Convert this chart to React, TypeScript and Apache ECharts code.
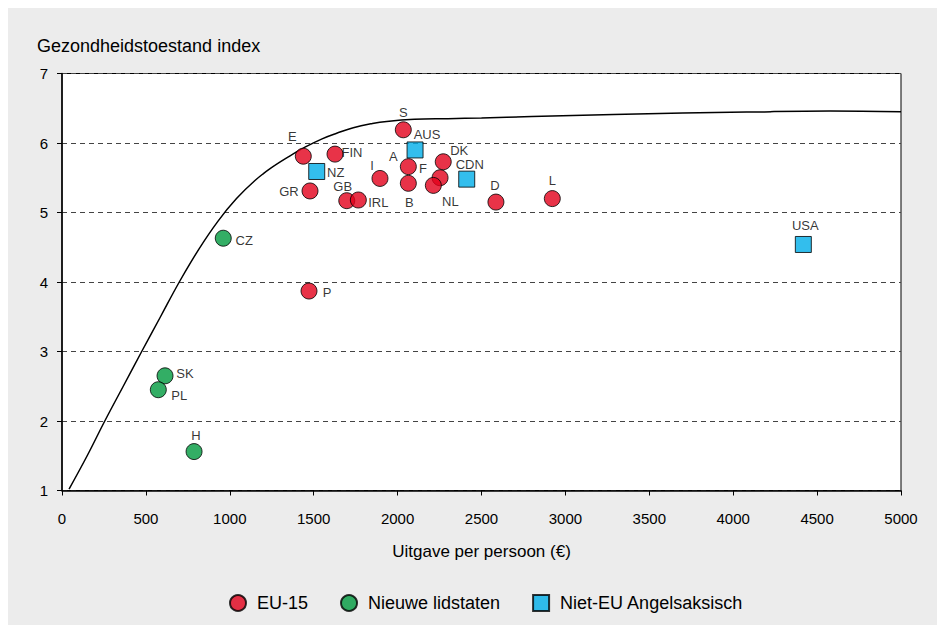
import React, { useEffect, useRef } from "react";
import * as echarts from "echarts";

// ---- data ----
const euNames = ["S", "E", "FIN", "A", "F", "I", "B", "DK", "NL", "GR", "GB", "IRL", "D", "L", "P"];
const euX = [2034, 1438, 1627, 2064, 2253, 1895, 2064, 2272, 2213, 1478, 1697, 1766, 2586, 2922, 1472];
const euY = [6.19, 5.81, 5.84, 5.66, 5.5, 5.49, 5.42, 5.73, 5.39, 5.31, 5.17, 5.18, 5.15, 5.2, 3.87];

const newNames = ["CZ", "SK", "PL", "H"];
const newX = [961, 614, 574, 787];
const newY = [4.63, 2.65, 2.45, 1.56];

const angloNames = ["AUS", "NZ", "CDN", "USA"];
const angloX = [2104, 1518, 2412, 4418];
const angloY = [5.9, 5.59, 5.48, 4.54];

const curveX = [42, 150, 255, 365, 475, 587, 699, 815, 931, 1040, 1150, 1240, 1349, 1448, 1550, 1637, 1736, 1850, 1935, 2100, 2300, 2500, 2800, 3286, 3700, 4080, 4577, 5000];
const curveY = [1.02, 1.5, 2.0, 2.5, 3.0, 3.5, 4.0, 4.47, 4.88, 5.2, 5.46, 5.63, 5.8, 5.94, 6.06, 6.14, 6.22, 6.28, 6.31, 6.34, 6.35, 6.36, 6.38, 6.41, 6.43, 6.445, 6.46, 6.45];

const seriesNames = ["EU-15", "Nieuwe lidstaten", "Niet-EU Angelsaksisch"];
const yTitle = "Gezondheidstoestand index";
const xTitle = "Uitgave per persoon (€)";

// ---- label placement (pixel offsets from marker centre) ----
const labelOffsets: Record<string, [number, number]> = {
  S: [0, -17], E: [-11, -20], FIN: [17, -2], A: [-15, -10], F: [-17, -9],
  I: [-8, -13], B: [1, 19], DK: [16, -11], NL: [17, 16], GR: [-21, 1],
  GB: [-4, -14], IRL: [20, 3], D: [-1, -17], L: [0, -18], P: [18, 1],
  CZ: [21, 2], SK: [20, -2], PL: [21, 6], H: [2, -16],
  AUS: [12, -15], NZ: [19, 1], CDN: [3, -15], USA: [2, -19],
};

const FONT = "'Liberation Sans', Arial, Helvetica, sans-serif";

const pointLabel = {
  show: true,
  position: "inside",
  formatter: "{b}",
  color: "#000",
  textBorderWidth: 0,
  textShadowBlur: 0,
  fontSize: 13,
  fontFamily: FONT,
};

function points(names: string[], xs: number[], ys: number[]) {
  return names.map((n, i) => ({
    name: n,
    value: [xs[i], ys[i]],
    label: { offset: labelOffsets[n] || [0, -16] },
  }));
}

export default function App() {
  const ref = useRef<HTMLDivElement>(null);
  useEffect(() => {
    if (!ref.current) return;
    const chart = echarts.init(ref.current, undefined, { renderer: "svg" });
    const markerBorder = { borderColor: "#000", borderWidth: 1 };
    chart.setOption({
      animation: false,
      backgroundColor: "#ececec",
      textStyle: { fontFamily: FONT },
      grid: {
        left: 54,
        right: 36,
        top: 65.5,
        bottom: 134.5,
        show: true,
        backgroundColor: "#fff",
        borderColor: "#000",
        borderWidth: 1,
      },
      graphic: [
        {
          type: "text",
          left: 29,
          top: 29,
          style: { text: yTitle, fill: "#000", font: `18px ${FONT}` },
        },
      ],
      legend: {
        data: seriesNames,
        left: 216,
        top: 581,
        itemWidth: 16,
        itemHeight: 16,
        itemGap: 32,
        textStyle: { fontSize: 18, color: "#000", fontFamily: FONT, padding: [0, 0, 0, 6] },
      },
      xAxis: {
        type: "value",
        min: 0,
        max: 5000,
        interval: 500,
        name: xTitle,
        nameLocation: "middle",
        nameGap: 52,
        nameTextStyle: { fontSize: 17, color: "#000", fontFamily: FONT },
        axisLine: { show: true, onZero: false, lineStyle: { color: "#000", width: 1.5 } },
        axisTick: { show: true, inside: false, length: 5, lineStyle: { color: "#000" } },
        axisLabel: { color: "#000", fontSize: 15, margin: 20, fontFamily: FONT, formatter: (v: number) => String(v) },
        splitLine: { show: false },
      },
      yAxis: {
        type: "value",
        min: 1,
        max: 7,
        interval: 1,
        axisLine: { show: true, onZero: false, lineStyle: { color: "#000", width: 1.5 } },
        axisTick: { show: true, inside: false, length: 5, lineStyle: { color: "#000" } },
        axisLabel: { color: "#000", fontSize: 15, margin: 14, fontFamily: FONT, formatter: (v: number) => String(v) },
        splitLine: { show: true, lineStyle: { color: "#444", width: 1, type: [5, 4] } },
      },
      series: [
        {
          name: "curve",
          type: "line",
          data: curveX.map((x, i) => [x, curveY[i]]),
          showSymbol: false,
          smooth: 0.4,
          silent: true,
          lineStyle: { color: "#000", width: 1.5 },
          z: 1,
        },
        {
          name: seriesNames[0],
          type: "scatter",
          symbol: "circle",
          symbolSize: 16,
          itemStyle: { color: "#e2001a", ...markerBorder },
          label: pointLabel,
          data: points(euNames, euX, euY),
          z: 3,
        },
        {
          name: seriesNames[1],
          type: "scatter",
          symbol: "circle",
          symbolSize: 16,
          itemStyle: { color: "#009a3e", ...markerBorder },
          label: pointLabel,
          data: points(newNames, newX, newY),
          z: 3,
        },
        {
          name: seriesNames[2],
          type: "scatter",
          symbol: "rect",
          symbolSize: 16,
          itemStyle: { color: "#00aee8", ...markerBorder },
          label: pointLabel,
          data: points(angloNames, angloX, angloY),
          z: 3,
        },
      ],
    });
    return () => chart.dispose();
  }, []);
  return (
    <div
      ref={ref}
      style={{ position: "fixed", left: 8, top: 8, width: 929, height: 617, background: "#ececec" }}
    />
  );
}
